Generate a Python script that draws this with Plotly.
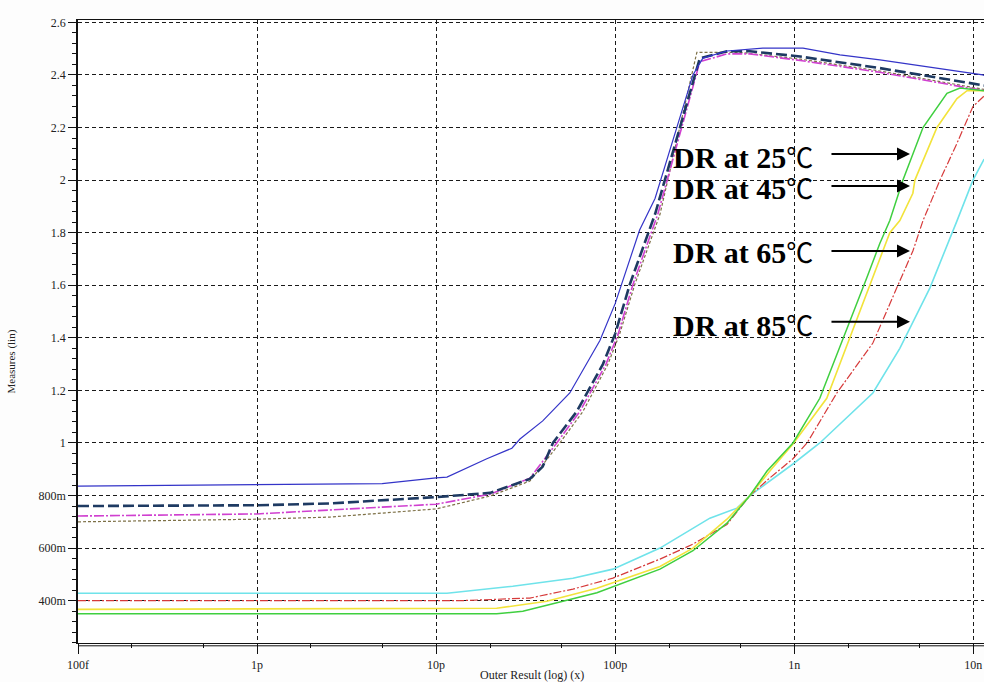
import plotly.graph_objects as go

# ---------------- data (x in seconds, y in volts) ----------------
blue_x = [1e-13, 1e-12, 5e-12, 1e-11, 1.15e-11, 1.92e-11, 2.65e-11, 2.94e-11, 3.94e-11, 5.58e-11,
          8.22e-11, 1.0e-10, 1.37e-10, 1.67e-10, 2.72e-10, 3.09e-10, 4.21e-10, 6.68e-10, 1.12e-9,
          1.80e-9, 3.01e-9, 1.13e-8, 1.15e-8]
blue_y = [0.836, 0.840, 0.845, 0.867, 0.870, 0.94, 0.98, 1.015, 1.084, 1.19,
          1.39, 1.53, 1.81, 1.93, 2.40, 2.464, 2.491, 2.502, 2.502,
          2.476, 2.457, 2.40, 2.398]

navy_x = [1e-13, 1e-12, 2.55e-12, 1e-11, 2.0e-11, 3.34e-11, 3.94e-11, 4.49e-11, 6.11e-11, 8.55e-11,
          1.0e-10, 1.21e-10, 1.67e-10, 2.97e-10, 4.21e-10, 5.66e-10, 1.08e-9, 3.01e-9, 1.15e-8]
navy_y = [0.760, 0.763, 0.770, 0.794, 0.81, 0.863, 0.91, 1.0, 1.12, 1.30,
          1.415, 1.605, 1.87, 2.463, 2.49, 2.49, 2.47, 2.426, 2.36]

mag_x = [1e-13, 1e-12, 2.55e-12, 1e-11, 2.0e-11, 3.34e-11, 4.72e-11, 6.35e-11, 8.89e-11,
         1.04e-10, 1.26e-10, 1.73e-10, 2.97e-10, 4.21e-10, 5.66e-10, 1.08e-9, 3.01e-9, 1.15e-8]
mag_y = [0.722, 0.730, 0.745, 0.767, 0.805, 0.866, 1.0, 1.12, 1.30,
         1.415, 1.605, 1.87, 2.45, 2.48, 2.48, 2.455, 2.41, 2.34]

olive_x = [1e-13, 1e-12, 2.55e-12, 1e-11, 2.0e-11, 3.34e-11, 4.91e-11, 6.61e-11, 9.12e-11,
           1.06e-10, 1.29e-10, 1.78e-10, 2.86e-10, 4.98e-10, 1.08e-9, 3.01e-9, 1.15e-8]
olive_y = [0.700, 0.710, 0.718, 0.749, 0.798, 0.855, 1.0, 1.12, 1.30,
           1.415, 1.605, 1.87, 2.486, 2.486, 2.46, 2.415, 2.345]

cyan_x = [1e-13, 1e-12, 1.15e-11, 2.68e-11, 5.81e-11, 9.72e-11, 1.78e-10, 3.38e-10, 4.79e-10,
          5.66e-10, 9.84e-10, 1.39e-9, 2.75e-9, 3.89e-9, 5.73e-9, 8.11e-9, 9.96e-9, 1.15e-8]
cyan_y = [0.428, 0.428, 0.428, 0.455, 0.485, 0.52, 0.60, 0.714, 0.752,
          0.80, 0.92, 1.0, 1.19, 1.36, 1.59, 1.845, 2.0, 2.08]

red_x = [1e-13, 1e-12, 1.36e-11, 3.34e-11, 5.81e-11, 9.72e-11, 1.78e-10, 2.72e-10, 4.21e-10,
         5.66e-10, 7.31e-10, 9.84e-10, 1.18e-9, 1.73e-9, 2.75e-9, 3.74e-9, 4.60e-9, 5.24e-9,
         6.52e-9, 8.11e-9, 9.96e-9, 1.15e-8]
red_y = [0.40, 0.40, 0.40, 0.41, 0.444, 0.486, 0.558, 0.615, 0.69,
         0.80, 0.867, 0.94, 1.0, 1.19, 1.38, 1.59, 1.73, 1.846,
         2.0, 2.14, 2.28, 2.32]

yellow_x = [1e-13, 1e-12, 2.18e-11, 4.15e-11, 7.91e-11, 1.78e-10, 2.72e-10, 4.21e-10, 5.66e-10,
            7.31e-10, 9.84e-10, 1.52e-9, 2.13e-9, 2.75e-9, 3.42e-9, 3.89e-9, 4.60e-9, 4.72e-9,
            6.27e-9, 8.11e-9, 9.23e-9, 1.15e-8]
yellow_y = [0.367, 0.368, 0.371, 0.398, 0.447, 0.53, 0.60, 0.71, 0.80,
            0.893, 0.996, 1.17, 1.43, 1.63, 1.80, 1.846, 1.95, 2.0,
            2.2, 2.31, 2.34, 2.34]

green_x = [1e-13, 1e-12, 2.18e-11, 3.05e-11, 7.91e-11, 1.78e-10, 2.72e-10, 4.21e-10, 5.66e-10,
           7.05e-10, 9.84e-10, 1.39e-9, 1.97e-9, 2.55e-9, 3.01e-9, 3.42e-9, 4.05e-9, 5.24e-9,
           7.13e-9, 8.43e-9, 1.15e-8]
green_y = [0.350, 0.350, 0.350, 0.36, 0.43, 0.52, 0.59, 0.695, 0.80,
           0.893, 1.0, 1.17, 1.43, 1.63, 1.76, 1.846, 2.0, 2.2,
           2.33, 2.35, 2.34]

x_tickvals = [1e-13, 1e-12, 1e-11, 1e-10, 1e-9, 1e-8]
x_ticktext = ["100f", "1p", "10p", "100p", "1n", "10n"]
y_tickvals = [0.4, 0.6, 0.8, 1.0, 1.2, 1.4, 1.6, 1.8, 2.0, 2.2, 2.4, 2.6]
y_ticktext = ["400m", "600m", "800m", "1", "1.2", "1.4", "1.6", "1.8", "2", "2.2", "2.4", "2.6"]

labels = ["DR at 25", "DR at 45", "DR at 65", "DR at 85"]

# ---------------- figure ----------------
fig = go.Figure()

series = [
    (olive_x, olive_y, dict(color="#7d7046", width=1.2, dash="3px,2px")),
    (mag_x, mag_y, dict(color="#d040d0", width=1.6, dash="10px,2px,2px,2px")),
    (navy_x, navy_y, dict(color="#1e3a62", width=2.6, dash="11px,4px")),
    (blue_x, blue_y, dict(color="#3434c8", width=1.2)),
    (cyan_x, cyan_y, dict(color="#6fe3ea", width=1.6)),
    (red_x, red_y, dict(color="#d63a3a", width=1.2, dash="8px,2px,2px,2px")),
    (yellow_x, yellow_y, dict(color="#f2e33a", width=1.6)),
    (green_x, green_y, dict(color="#3fcf3f", width=1.5)),
]
for xs, ys, ln in series:
    fig.add_trace(go.Scatter(x=xs, y=ys, mode="lines", line=ln, showlegend=False,
                             hoverinfo="skip"))

serif = "Liberation Serif, Times New Roman, serif"
grid = dict(showgrid=True, gridcolor="#1a1a1a", gridwidth=1, griddash="4px,3px")

fig.update_xaxes(type="log", range=[-13, -7.94], tickvals=x_tickvals, ticktext=x_ticktext,
                 ticks="outside", ticklen=10, tickcolor="#111", tickwidth=1,
                 minor=dict(ticks="outside", ticklen=4, tickcolor="#111", showgrid=False),
                 showline=True, linecolor="#111", linewidth=1.2, mirror=True,
                 zeroline=False, automargin=False,
                 tickfont=dict(family=serif, size=12, color="#222"),
                 **grid)
fig.update_yaxes(range=[0.239, 2.609], tickvals=y_tickvals, ticktext=y_ticktext,
                 ticks="outside", ticklen=8, tickcolor="#111", tickwidth=1,
                 minor=dict(ticks="outside", ticklen=4, dtick=0.04, tickcolor="#111",
                            showgrid=False),
                 showline=True, linecolor="#111", linewidth=1.5,
                 zeroline=False, automargin=False,
                 tickfont=dict(family=serif, size=12, color="#222"),
                 **grid)

# second line of the double bottom axis
fig.add_shape(type="line", xref="paper", yref="paper", x0=0, x1=1, y0=-0.0045, y1=-0.0045,
              line=dict(color="#111", width=1))

ann = []
ann.append(dict(text="Outer Result (log) (x)", xref="paper", yref="paper", x=0.5007, y=-0.0509,
                showarrow=False, font=dict(family=serif, size=12, color="#222"),
                xanchor="center", yanchor="middle"))
ann.append(dict(text="Measures (lin)", xref="paper", yref="paper", x=-0.0732, y=0.4513,
                textangle=-90, showarrow=False, font=dict(family=serif, size=11, color="#222"),
                xanchor="center", yanchor="middle"))

text_y = [0.7801, 0.7304, 0.6278, 0.5107]
arrow_y = [0.7849, 0.7336, 0.6294, 0.5155]
for lab, ty, ay in zip(labels, text_y, arrow_y):
    ann.append(dict(
        text="<b>" + lab + "</b><span style=\"font-family:Noto Sans CJK SC;font-weight:normal;font-size:27px\">℃</span>",
        xref="paper", yref="paper", x=0.6544, y=ty, showarrow=False,
        xanchor="left", yanchor="middle",
        font=dict(family=serif, size=30, color="#000")))
    ann.append(dict(text="", xref="paper", yref="paper", x=0.9183, y=ay,
                    showarrow=True, ax=-80, ay=0, arrowhead=2, arrowsize=1.3,
                    arrowwidth=2, arrowcolor="#000"))

fig.update_layout(width=984, height=682, margin=dict(l=78, r=0, t=20, b=39, autoexpand=False),
                  paper_bgcolor="#fdfdfd", plot_bgcolor="#ffffff", annotations=ann)

fig.write_html("out.html", config={"displayModeBar": False},
               post_script="document.body.style.margin='0';document.body.style.overflow='hidden';")
